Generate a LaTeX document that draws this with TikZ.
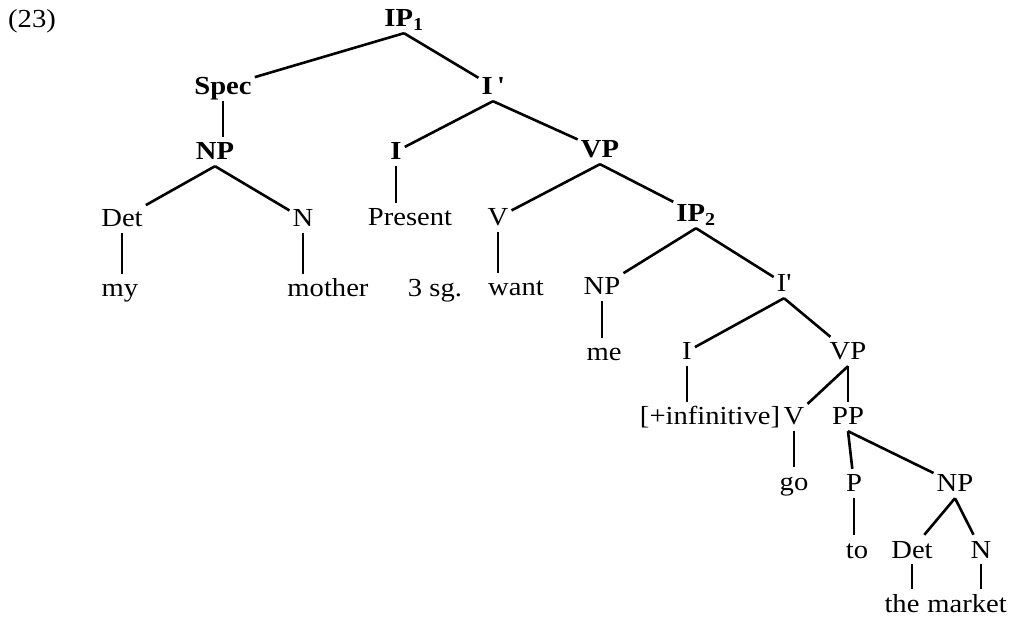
\documentclass[tikz,border=0pt]{standalone}
\usepackage{fontspec}
\setmainfont{Liberation Serif}[FakeStretch=1.1]
\begin{document}
\begin{tikzpicture}[x=1pt,y=-1pt,
  font=\fontsize{26pt}{30pt}\selectfont,
  tn/.style={inner xsep=3pt, inner ysep=6pt, text height=17pt, text depth=0pt, anchor=base},
  bn/.style={tn, font=\fontsize{26pt}{30pt}\selectfont\bfseries},
  br/.style={line width=2.6pt},
  vt/.style={line width=2.2pt}]
\useasboundingbox (0,0) rectangle (1013,628);
% labels
\node[tn] (n23) at (32,28) {(23)};
\node[bn] (ip1) at (404,27) {IP\textsubscript{1}};
\node[bn] (spec) at (223,95) {Spec};
\node[bn] (ibar1) at (493,95) {I\,\textquotesingle};
\node[bn] (np1) at (215,160) {NP};
\node[bn] (i1) at (396,160) {I};
\node[bn] (vp1) at (600,158) {VP};
\node[tn] (det1) at (122,227) {Det};
\node[tn] (n1) at (303,227) {N};
\node[tn] (present) at (410,226) {Present};
\node[tn] (v1) at (498,226) {V};
\node[bn] (ip2) at (696,222) {IP\textsubscript{2}};
\node[tn] (my) at (120,297) {my};
\node[tn] (mother) at (328,297) {mother};
\node[tn] (sg) at (435,297) {3 sg.};
\node[tn] (want) at (516,296) {want};
\node[tn] (np2) at (602,295) {NP};
\node[tn] (ibar2) at (784,292) {I\textquotesingle};
\node[tn] (me) at (604,361) {me};
\node[tn] (i2) at (687,360) {I};
\node[tn] (vp2) at (848,360) {VP};
\node[tn] (inf) at (710,425) {[+infinitive]};
\node[tn] (v2) at (794,425) {V};
\node[tn] (pp) at (848,425) {PP};
\node[tn] (go) at (794,490) {go};
\node[tn] (p) at (854,492) {P};
\node[tn] (np3) at (955,492) {NP};
\node[tn] (to) at (857,558) {to};
\node[tn] (det2) at (912,558) {Det};
\node[tn] (n2) at (981,558) {N};
\node[tn] (the) at (902,612) {the};
\node[tn] (market) at (967,612) {market};
% branches
\draw[br] (ip1.south) -- (spec);
\draw[br] (ip1.south) -- (ibar1);
\draw[br] (np1.south) -- (det1);
\draw[br] (np1.south) -- (n1);
\draw[br] (ibar1.south) -- (i1);
\draw[br] (ibar1.south) -- (vp1);
\draw[br] (vp1.south) -- (v1);
\draw[br] (vp1.south) -- (ip2);
\draw[br] (ip2.south) -- (np2);
\draw[br] (ip2.south) -- (ibar2);
\draw[br] (ibar2.south) -- (i2);
\draw[br] (ibar2.south) -- (vp2);
\draw[br] (vp2.south) -- (v2);
\draw[br] (vp2.south) -- (pp);
\draw[br] (pp.south) -- (p);
\draw[br] (pp.south) -- (np3);
\draw[br] (np3.south) -- (det2);
\draw[br] (np3.south) -- (n2);
% vertical lines
\draw[vt] (spec.south) -- (spec.south |- np1.north);
\draw[vt] (i1.south) -- (i1.south |- present.north);
\draw[vt] (det1.south) -- (det1.south |- my.north);
\draw[vt] (n1.south) -- (n1.south |- mother.north);
\draw[vt] (v1.south) -- (v1.south |- want.north);
\draw[vt] (np2.south) -- (np2.south |- me.north);
\draw[vt] (i2.south) -- (i2.south |- inf.north);
\draw[vt] (v2.south) -- (v2.south |- go.north);
\draw[vt] (p.south) -- (p.south |- to.north);
\draw[vt] (det2.south) -- (det2.south |- the.north);
\draw[vt] (n2.south) -- (n2.south |- market.north);
\end{tikzpicture}
\end{document}
